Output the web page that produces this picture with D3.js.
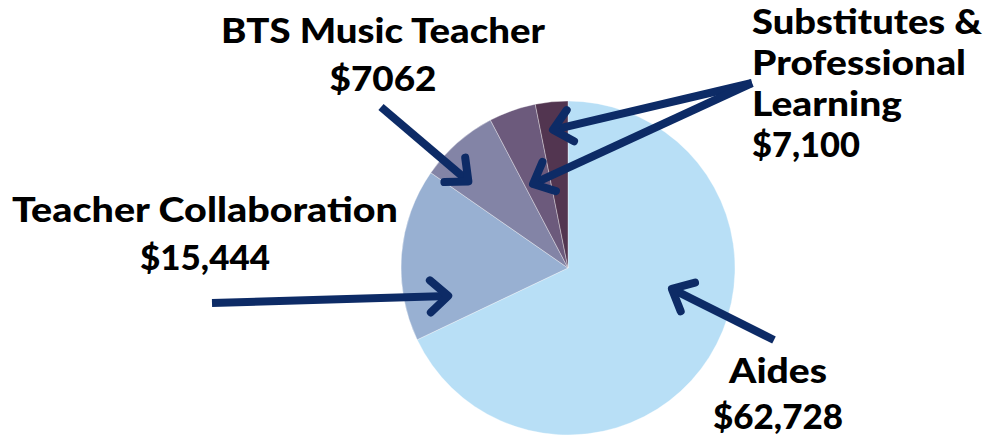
<!DOCTYPE html>
<html>
<head>
<meta charset="utf-8">
<script src="https://cdn.jsdelivr.net/npm/d3@7"></script>
<style>
  html, body { margin: 0; padding: 0; background: #fff; }
  svg { display: block; }
  text { font-family: "Lato", "Open Sans", sans-serif; font-weight: 900; fill: #000; }
</style>
</head>
<body>
<svg id="chart" width="983" height="440"></svg>
<script>
// slices, in drawing order (clockwise from 12 o'clock)
const categories = ["Aides", "Teacher Collaboration", "BTS Music Teacher", "Professional Learning", "Substitutes"];
const values = [62728, 15444, 7062, 4200, 2900];
const colors = ["#b8dff6", "#98b0d2", "#8384a6", "#6c5a7c", "#523550"];

// label blocks
const labelLines = [
  ["Aides", "$62,728"],
  ["Teacher Collaboration", "$15,444"],
  ["BTS Music Teacher", "$7062"],
  ["Substitutes &", "Professional", "Learning", "$7,100"]
];

const width = 983;
const height = 440;
const cx = 568;
const cy = 268;
const radius = 167;

const svg = d3.select("#chart");

const pie = d3.pie().sort(null).value((d) => d.value);
const arc = d3.arc().innerRadius(0).outerRadius(radius);

const slices = pie(categories.map((c, i) => ({ name: c, value: values[i], color: colors[i] })));

const g = svg.append("g").attr("transform", `translate(${cx},${cy})`);
g.selectAll("path")
  .data(slices)
  .join("path")
  .attr("d", arc)
  .attr("fill", (d) => d.data.color)
  .attr("stroke", "rgba(255,255,255,0.35)")
  .attr("stroke-width", 1);

// point inside the pie, angle in degrees clockwise from top
function polar(deg, r) {
  const a = (deg * Math.PI) / 180;
  return [cx + r * Math.sin(a), cy - r * Math.cos(a)];
}

// arrows: tail point, and tip given in pie coords
const arrows = [
  { from: [212, 303], tip: polar(256.9, 123) },
  { from: [381, 107], tip: polar(311, 132) },
  { from: [752, 83], tip: polar(353.8, 139) },
  { from: [752, 83], tip: polar(337.4, 91) },
  { from: [774, 340], tip: polar(101.4, 106) }
];

const navy = "#0d2b66";
const headLen = 24;
const headAngle = (42 * Math.PI) / 180;

const arrowG = svg.append("g")
  .attr("fill", "none")
  .attr("stroke", navy)
  .attr("stroke-width", 8)
  .attr("stroke-linecap", "round")
  .attr("stroke-linejoin", "round");

arrows.forEach((a) => {
  const [x1, y1] = a.from;
  const [x2, y2] = a.tip;
  const ang = Math.atan2(y2 - y1, x2 - x1);
  arrowG.append("path")
    .attr("stroke-linecap", "butt")
    .attr("d", d3.line()([[x1, y1], [x2, y2]]));
  const p1 = [x2 - headLen * Math.cos(ang - headAngle), y2 - headLen * Math.sin(ang - headAngle)];
  const p2 = [x2 - headLen * Math.cos(ang + headAngle), y2 - headLen * Math.sin(ang + headAngle)];
  arrowG.append("path").attr("d", d3.line()([p1, [x2, y2], p2]));
});

// labels
const fontSize = 34;
const blocks = [
  { lines: labelLines[0], x: 778, y: 383, anchor: "middle", widths: [98, 130] },
  { lines: labelLines[1], x: 205, y: 222, anchor: "middle", widths: [386, 130] },
  { lines: labelLines[2], x: 383, y: 43, anchor: "middle", widths: [324, 107] },
  { lines: labelLines[3], x: 752, y: 34, anchor: "start", widths: [230, 214, 150, 108] }
];
const lineGap = [46, 48, 48, 41];

blocks.forEach((b, bi) => {
  const t = svg.append("text")
    .attr("text-anchor", b.anchor)
    .style("font-size", fontSize + "px");
  b.lines.forEach((line, i) => {
    t.append("tspan")
      .attr("x", b.x)
      .attr("y", b.y + i * lineGap[bi])
      .attr("textLength", b.widths[i])
      .attr("lengthAdjust", "spacingAndGlyphs")
      .text(line);
  });
});
</script>
</body>
</html>
